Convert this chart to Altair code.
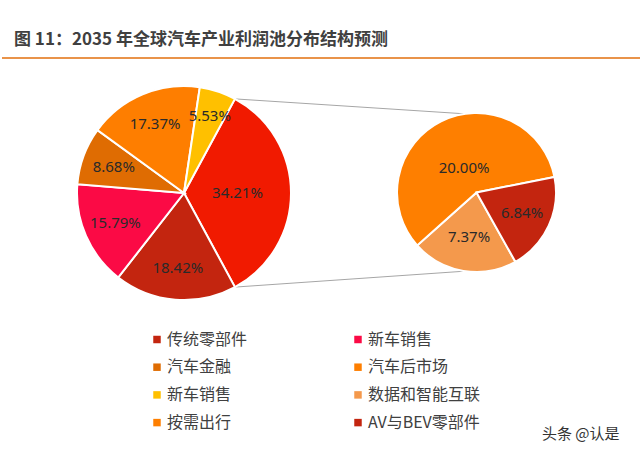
import math
import altair as alt
import pandas as pd

TITLE = "图 11：2035 年全球汽车产业利润池分布结构预测"
WATERMARK = "头条 @认是"

# Series in legend order; the first five form the main pie,
# the last three are broken out into the secondary pie.
series_names = ["传统零部件", "新车销售", "汽车金融", "汽车后市场", "新车销售",
                "数据和智能互联", "按需出行", "AV与BEV零部件"]
series_values = [18.42, 15.79, 8.68, 17.37, 5.53, 7.37, 20.00, 6.84]
series_colors = ["#c3250f", "#fb0a45", "#df6c02", "#fe7e00", "#ffc000",
                 "#f4994c", "#fe7f00", "#c3250f"]
N_MAIN = 5
combined_color = "#f11a00"

# geometry
C1, R1 = (184.0, 193.0), 107.0      # main pie
C2, R2 = (476.5, 192.5), 79.5       # secondary pie
main_label_r = [0.70, 0.70, 0.70, 0.70, 0.76]
combined_label_r = 0.50
sub_label_r = [0.57, 0.35, 0.63]
sub_start_deg = 150.7

LABEL_FONT = "Noto Sans"
CJK_FONT = "Noto Sans CJK SC"

sub_vals = series_values[N_MAIN:]
combined = round(sum(sub_vals), 2)
combined_frac = combined / 100.0


def pie_frame(names, values, colors, label_r, radius):
    df = pd.DataFrame({"name": names, "value": values, "color": colors,
                       "lr": [f * radius for f in label_r]})
    df["ord"] = range(len(df))
    df["mid"] = df["value"].cumsum() - df["value"] / 2
    df["label"] = df["value"].map(lambda v: f"{v:.2f}%")
    return df


# main pie: the combined slice is centred on 3 o'clock, the rest follow clockwise
main_start = math.pi / 2 - math.pi * combined_frac
main_df = pie_frame(["其他"] + series_names[:N_MAIN],
                    [combined] + series_values[:N_MAIN],
                    [combined_color] + series_colors[:N_MAIN],
                    [combined_label_r] + main_label_r, R1)

sub_start = math.radians(sub_start_deg)
sub_df = pie_frame(series_names[N_MAIN:], sub_vals, series_colors[N_MAIN:],
                   sub_label_r, R2)


def pie_layers(df, center, radius, start):
    total = float(df["value"].sum())
    scale = alt.Scale(domain=[0, total], range=[start, start + 2 * math.pi])
    arcs = alt.Chart(df).mark_arc(stroke="white", strokeWidth=2).encode(
        theta=alt.Theta("value:Q", stack=True, scale=scale),
        order=alt.Order("ord:Q"),
        color=alt.Color("color:N", scale=None),
        x=alt.value(center[0]),
        y=alt.value(center[1]),
        radius=alt.value(radius),
    )
    labels = alt.Chart(df).mark_text(
        font=LABEL_FONT, fontSize=15, color="#2a2a2a",
        align="center", baseline="middle",
    ).encode(
        theta=alt.Theta("mid:Q", stack=False, scale=scale),
        radius=alt.Radius("lr:Q", scale=None),
        text="label:N",
        x=alt.value(center[0]),
        y=alt.value(center[1]),
    )
    return arcs, labels


main_arcs, main_labels = pie_layers(main_df, C1, R1, main_start)
sub_arcs, sub_labels = pie_layers(sub_df, C2, R2, sub_start)

# connector lines from the edges of the combined slice to the secondary pie
a_top = main_start
a_bot = main_start + 2 * math.pi * combined_frac
b_top = math.radians(-8.3)
b_bot = math.radians(188.3)
conn_df = pd.DataFrame({
    "x": [C1[0] + R1 * math.sin(a_top), C1[0] + R1 * math.sin(a_bot)],
    "y": [C1[1] - R1 * math.cos(a_top), C1[1] - R1 * math.cos(a_bot)],
    "x2": [C2[0] + R2 * math.sin(b_top), C2[0] + R2 * math.sin(b_bot)],
    "y2": [C2[1] - R2 * math.cos(b_top), C2[1] - R2 * math.cos(b_bot)],
})
connectors = alt.Chart(conn_df).mark_rule(color="#a6a6a6", strokeWidth=1).encode(
    x=alt.X("x:Q", scale=None), y=alt.Y("y:Q", scale=None),
    x2="x2:Q", y2="y2:Q",
)

# legend: two columns, filled row by row
leg_df = pd.DataFrame({"name": series_names, "color": series_colors})
leg_df["col"] = [i % 2 for i in range(len(leg_df))]
leg_df["row"] = [i // 2 for i in range(len(leg_df))]
leg_df["sx"] = 157 + leg_df["col"] * 201
leg_df["tx"] = 167 + leg_df["col"] * 201
leg_df["py"] = 339.5 + leg_df["row"] * 27.7

leg_marks = alt.Chart(leg_df).mark_square(size=56, opacity=1).encode(
    x=alt.X("sx:Q", scale=None), y=alt.Y("py:Q", scale=None),
    color=alt.Color("color:N", scale=None),
)
leg_text = alt.Chart(leg_df).mark_text(
    font=CJK_FONT, fontSize=16, color="#404040", align="left", baseline="middle",
).encode(
    x=alt.X("tx:Q", scale=None), y=alt.Y("py:Q", scale=None), text="name:N",
)

title = alt.Chart(pd.DataFrame({"t": [TITLE]})).mark_text(
    font=CJK_FONT, fontSize=17, fontWeight="bold", color="#404040",
    align="left", baseline="alphabetic",
).encode(x=alt.value(14), y=alt.value(45), text="t:N")

underline = alt.Chart(pd.DataFrame({"k": [0]})).mark_rule(
    color="#e9934a", strokeWidth=2,
).encode(x=alt.value(2), x2=alt.value(640), y=alt.value(58))

watermark = alt.Chart(pd.DataFrame({"t": [WATERMARK]})).mark_text(
    font=CJK_FONT, fontSize=15, color="#333333", align="left", baseline="middle",
).encode(x=alt.value(542), y=alt.value(434), text="t:N")

chart = alt.layer(
    underline, title, connectors,
    main_arcs, sub_arcs, main_labels, sub_labels,
    leg_marks, leg_text, watermark,
).resolve_scale(theta="independent").properties(
    width=640, height=454,
    autosize=alt.AutoSizeParams(type="none"),
    padding=0,
    background="white",
).configure_view(stroke=None)

chart.save("out.html", embed_options={"renderer": "svg", "actions": False})
